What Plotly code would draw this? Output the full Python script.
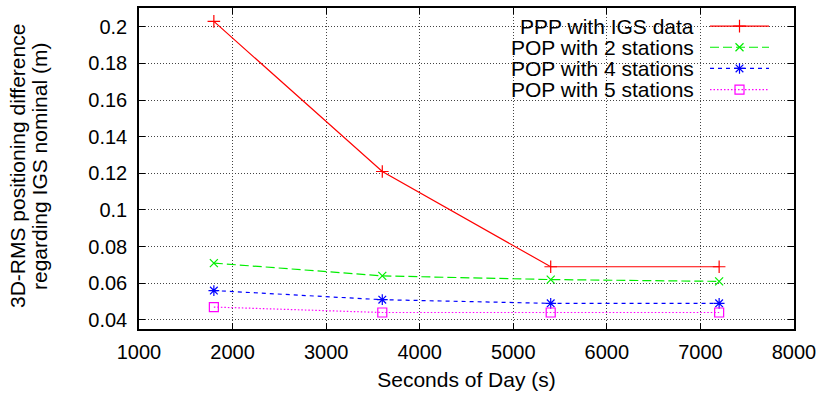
import plotly.graph_objects as go

# ---- data ----
seconds = [1800, 3600, 5400, 7200]
ppp_igs = [0.203, 0.121, 0.069, 0.069]
pop_2 = [0.071, 0.064, 0.062, 0.061]
pop_4 = [0.056, 0.051, 0.049, 0.049]
pop_5 = [0.047, 0.044, 0.044, 0.044]
series_names = ["PPP with IGS data", "POP with 2 stations", "POP with 4 stations", "POP with 5 stations"]
x_ticks = [1000, 2000, 3000, 4000, 5000, 6000, 7000, 8000]
y_ticks = [0.04, 0.06, 0.08, 0.1, 0.12, 0.14, 0.16, 0.18, 0.2]
x_title = "Seconds of Day (s)"
y_title_lines = ["3D-RMS positioning difference", "regarding IGS nominal (m)"]

FONT = "Liberation Sans, Arial, sans-serif"
TICK_SIZE = 20
TEXT_SIZE = 21
styles = [
    dict(color="#ff0000", dash="solid", symbol="cross-thin-open", size=9),
    dict(color="#00ee00", dash="9px,4px", symbol="x-thin-open", size=8),
    dict(color="#0000ff", dash="4px,4px", symbol="asterisk-open", size=9),
    dict(color="#ff00ff", dash="1.5px,2px", symbol="square-open", size=9),
]
series = [ppp_igs, pop_2, pop_4, pop_5]

fig = go.Figure()
for name, ys, st in zip(series_names, series, styles):
    fig.add_trace(go.Scatter(
        x=seconds, y=ys, mode="lines+markers", name=name, showlegend=False,
        line=dict(color=st["color"], dash=st["dash"], width=1.2),
        marker=dict(symbol=st["symbol"], size=st["size"], color=st["color"],
                    line=dict(color=st["color"], width=1.2)),
    ))

# manual gnuplot-style legend (text right, sample on right) on overlay pixel axes
PW, PH = 655, 324
leg_text_x = 557
leg_line = (571, 630)
leg_rows = [18.3, 39.6, 61.0, 82.3]
for name, st, ry in zip(series_names, styles, leg_rows):
    fig.add_trace(go.Scatter(
        x=[leg_line[0], leg_line[1]], y=[ry, ry], mode="lines", xaxis="x2", yaxis="y2",
        showlegend=False, hoverinfo="skip",
        line=dict(color=st["color"], dash=st["dash"], width=1.2)))
    fig.add_trace(go.Scatter(
        x=[(leg_line[0] + leg_line[1]) / 2], y=[ry], mode="markers", xaxis="x2", yaxis="y2",
        showlegend=False, hoverinfo="skip",
        marker=dict(symbol=st["symbol"], size=st["size"], color=st["color"],
                    line=dict(color=st["color"], width=1.2))))
    fig.add_annotation(x=leg_text_x, y=ry, xref="x2", yref="y2", text=name,
                       showarrow=False, xanchor="right", yanchor="middle",
                       font=dict(family=FONT, size=TEXT_SIZE, color="black"))

# two-line y title with tight line spacing (as separate rotated lines, paper coords)
for line_text, px in zip(y_title_lines, [-121.5, -99.5]):
    fig.add_annotation(x=px / PW, y=0.5 + 2 / PH, xref="paper", yref="paper", text=line_text,
                       showarrow=False, textangle=-90, xanchor="center", yanchor="middle",
                       font=dict(family=FONT, size=TEXT_SIZE, color="black"))

axis_common = dict(
    showline=True, linecolor="black", linewidth=1.5, mirror="ticks",
    ticks="inside", ticklen=6, tickcolor="black", tickwidth=1,
    showgrid=True, gridcolor="#444444", griddash="1px,2px", gridwidth=1,
    zeroline=False, tickfont=dict(family=FONT, size=TICK_SIZE, color="black"),
)

fig.update_layout(
    width=823, height=394,
    margin=dict(l=139, r=29, t=6, b=64),
    paper_bgcolor="white", plot_bgcolor="white",
    font=dict(family=FONT, size=TEXT_SIZE, color="black"),
    xaxis=dict(range=[1000, 8000], tickvals=x_ticks, ticklabelstandoff=4,
               title=dict(text=x_title, font=dict(family=FONT, size=TEXT_SIZE), standoff=11),
               **axis_common),
    yaxis=dict(range=[0.035, 0.2103], tickvals=y_ticks,
               ticktext=[("%g" % v) for v in y_ticks], ticklabelstandoff=6,
               **axis_common),
    xaxis2=dict(overlaying="x", range=[0, PW], visible=False, domain=[0, 1]),
    yaxis2=dict(overlaying="y", range=[PH, 0], visible=False),
    showlegend=False,
)

fig.write_html("out.html")
